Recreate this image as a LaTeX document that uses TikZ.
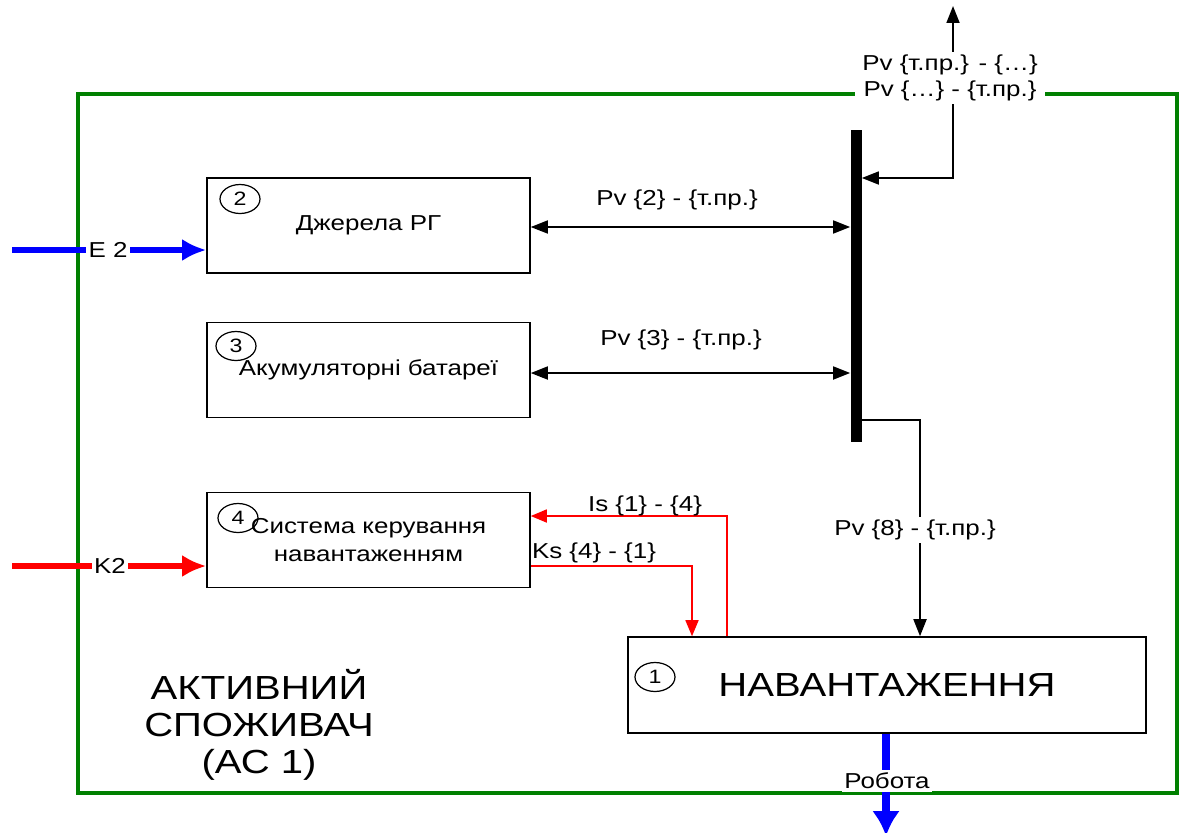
\documentclass[tikz,border=0pt]{standalone}
\usepackage{fontspec}
\setmainfont{Liberation Sans}[FakeStretch=1.2]
\usetikzlibrary{arrows.meta, positioning, shapes.geometric}
\definecolor{zelenyi}{HTML}{008000}
\definecolor{synii}{HTML}{0000FF}
\definecolor{chervonyi}{HTML}{FF0000}

\begin{document}
\begin{tikzpicture}[x=0.02cm, y=-0.02cm,
    blok/.style={draw, line width=0.9pt, minimum width=6.46cm, minimum height=1.9cm,
      align=center, font=\fontsize{12.3}{16}\selectfont},
    nomer/.style={draw, ellipse, line width=0.7pt, minimum width=0.8cm, minimum height=0.58cm,
      inner sep=0pt, font=\fontsize{11}{12}\selectfont},
    napys/.style={font=\fontsize{12.3}{15}\selectfont, inner sep=1.5pt},
    tlo/.style={fill=white},
    potik/.style={line width=1pt, -{Triangle[length=0.34cm, width=0.26cm]}},
    dvobik/.style={line width=1pt, {Triangle[length=0.34cm, width=0.26cm]}-{Triangle[length=0.34cm, width=0.26cm]}},
    keruv/.style={chervonyi, line width=0.9pt},
    energ/.style={line width=3.4pt, -{Latex[length=0.48cm, width=0.44cm]}}]
    \useasboundingbox (0,0) rectangle (1179,832);
    % Рамка активного споживача
    \draw[zelenyi, line width=2.2pt] (78,94) rectangle (1177,793);
    % Блоки
    \node[blok] (dzherela) at (368.5,225.5) {Джерела РГ};
    \node[blok] (akum) at (368.5,370) {Акумуляторні батареї};
    \node[blok] (systema) at (368.5,540) {Система керування\\навантаженням};
    \node[blok, minimum width=10.36cm, minimum height=1.92cm, font=\fontsize{19}{22}\selectfont]
      (navant) at (887,685) {НАВАНТАЖЕННЯ};
    \node[nomer] (n2) at (240,199) {2};
    \node[nomer] (n3) at (236,346) {3};
    \node[nomer] (n4) at (238,518) {4};
    \node[nomer] (n1) at (655,677) {1};
    % Шина
    \node[fill=black, inner sep=0pt, minimum width=0.22cm, minimum height=6.24cm] (shyna) at (856,286) {};
    % Обмін потужністю
    \coordinate (vyhid) at (953,6);
    \draw[dvobik] (vyhid) |- (shyna.east |- 0,178);
    \draw[dvobik] (dzherela.east |- 0,227) -- (shyna.west |- 0,227);
    \draw[dvobik] (akum.east |- 0,373) -- (shyna.west |- 0,373);
    \draw[potik] (shyna.east |- 0,420) -| (navant.north -| 920,0);
    \node[napys] (pv2) at (677,200) {Pv \{2\} - \{т.пр.\}};
    \node[napys] (pv3) at (681,340) {Pv \{3\} - \{т.пр.\}};
    \node[napys, tlo] (pv8) at (915,530) {Pv \{8\} - \{т.пр.\}};
    \node[napys, tlo, align=center, inner xsep=4pt] (pvzovn) at (950,78)
      {Pv \{т.пр.\} - \{…\}\\Pv \{…\} - \{т.пр.\}};
    % Керування
    \draw[keruv, -{Triangle[length=0.32cm, width=0.26cm]}] (navant.north -| 727,0) |- (systema.east |- 0,516);
    \draw[keruv, -{Triangle[length=0.32cm, width=0.26cm]}] (systema.east |- 0,566) -| (navant.north -| 692,0);
    \node[napys] (is14) at (645,506) {Is \{1\} - \{4\}};
    \node[napys] (ks41) at (594,553) {Ks \{4\} - \{1\}};
    % Входи та вихід
    \coordinate (vhide) at (12,250);
    \coordinate (vhidk) at (12,566);
    \coordinate (robota) at (886,836);
    \draw[energ, synii] (vhide) -- (dzherela.west |- vhide);
    \draw[energ, chervonyi] (vhidk) -- (systema.west |- vhidk);
    \draw[synii, line width=4.5pt, -{Latex[length=0.5cm, width=0.56cm]}] (navant.south -| robota) -- (robota);
    \node[napys, tlo] (e2) at (108,250) {E 2};
    \node[napys, tlo] (k2) at (110,566) {K2};
    \node[napys, tlo] (rob) at (887,781) {Робота};
    \node[font=\fontsize{19}{21}\selectfont, align=center] (ac) at (259,725) {АКТИВНИЙ\\СПОЖИВАЧ\\(АС 1)};
\end{tikzpicture}
\end{document}
